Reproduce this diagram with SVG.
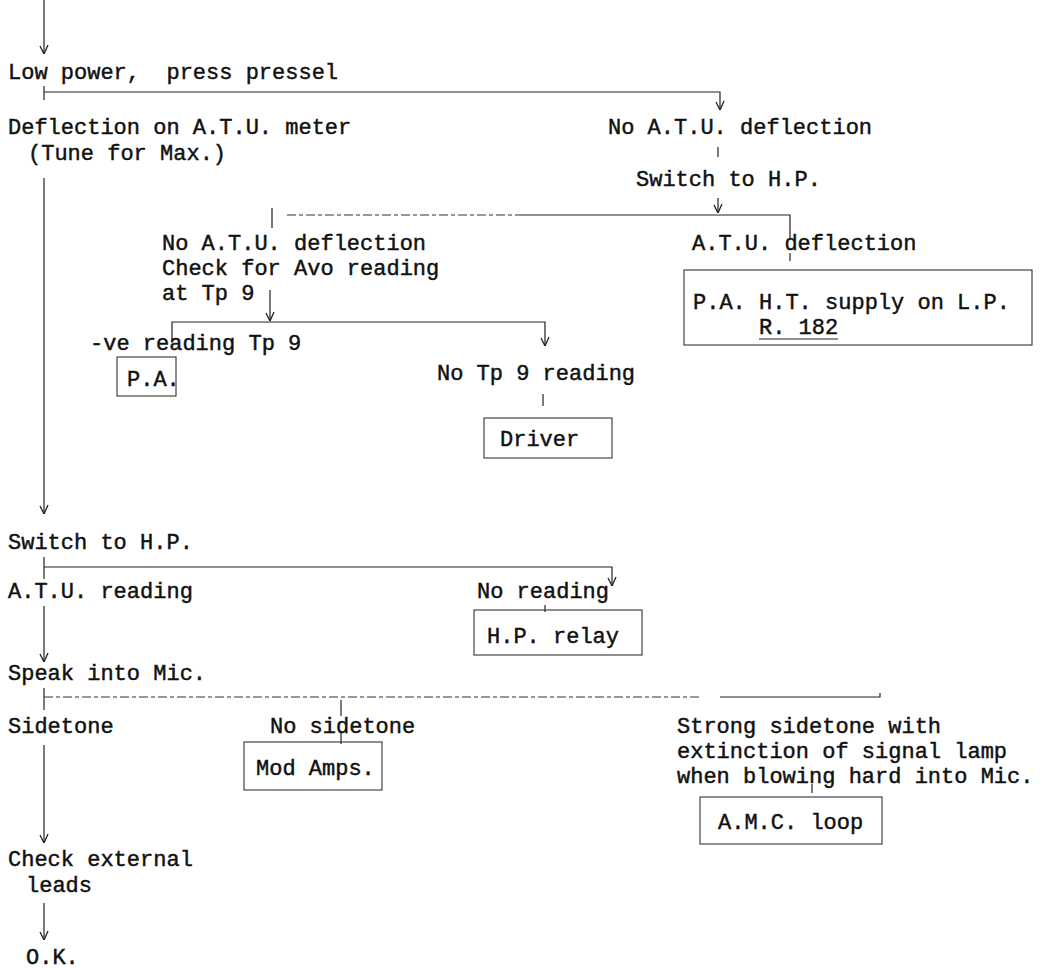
<svg xmlns="http://www.w3.org/2000/svg" width="1061" height="972" viewBox="0 0 1061 972">
  <style>
    text { font-family: "Liberation Mono", "DejaVu Sans Mono", monospace; font-size: 22px; fill: #111; stroke: #111; stroke-width: 0.45; white-space: pre; }
    .ln { fill: none; stroke: #222; stroke-width: 1.2; }
    .dash { fill: none; stroke: #333; stroke-width: 1.1; stroke-dasharray: 9 3 4 3; }
    .box { fill: none; stroke: #333; stroke-width: 1.1; }
    .arr { marker-end: url(#v); }
  </style>
  <defs>
    <marker id="v" viewBox="0 0 10 10" refX="10" refY="5" markerWidth="10" markerHeight="10" markerUnits="userSpaceOnUse" orient="auto">
      <path d="M1,1 L10,5 L2,9" fill="none" stroke="#222" stroke-width="1.3"/>
    </marker>
  </defs>

  <rect width="1061" height="972" fill="#fff"/>

  <!-- connectors -->
  <g id="connectors">
    <!-- main spine -->
    <line class="ln arr" x1="44" y1="0" x2="44" y2="54"/>
    <line class="ln" x1="44" y1="86" x2="44" y2="100"/>
    <polyline class="ln arr" points="44,92 720,92 720,110"/>
    <line class="ln" x1="718" y1="147" x2="718" y2="157"/>
    <line class="ln arr" x1="718" y1="198" x2="718" y2="213"/>
    <line class="ln" x1="272" y1="208" x2="272" y2="228"/>
    <line class="dash" x1="287" y1="215" x2="520" y2="215"/>
    <polyline class="ln" points="520,215 790,215 790,238"/>
    <line class="ln" x1="790" y1="253" x2="790" y2="261"/>
    <line class="ln" x1="270" y1="290" x2="270" y2="306"/>
    <line class="ln arr" x1="270" y1="306" x2="270" y2="321"/>
    <polyline class="ln arr" points="172,343 172,322 545,322 545,346"/>
    <line class="ln" x1="543" y1="394" x2="543" y2="406"/>
    <line class="ln arr" x1="44" y1="178" x2="44" y2="514"/>
    <line class="ln" x1="44" y1="557" x2="44" y2="579"/>
    <polyline class="ln arr" points="44,567 612,567 612,586"/>
    <line class="ln" x1="545" y1="605" x2="545" y2="612"/>
    <line class="ln arr" x1="44" y1="606" x2="44" y2="662"/>
    <line class="ln" x1="44" y1="688" x2="44" y2="710"/>
    <line class="dash" x1="44" y1="697" x2="700" y2="697"/>
    <polyline class="ln" points="720,697 880,697 880,693"/>
    <line class="ln" x1="341" y1="700" x2="341" y2="716"/>
    <line class="ln" x1="341" y1="733" x2="341" y2="744"/>
    <line class="ln" x1="812" y1="784" x2="812" y2="793"/>
    <line class="ln arr" x1="44" y1="745" x2="44" y2="843"/>
    <line class="ln arr" x1="44" y1="903" x2="44" y2="940"/>
  </g>

  <!-- steps and outcomes -->
  <g id="low-power"><text x="8" y="79">Low power,  press pressel</text></g>
  <g id="deflection"><text x="8" y="134">Deflection on A.T.U. meter</text><text x="28" y="160">(Tune for Max.)</text></g>
  <g id="no-deflection-lp"><text x="608" y="134">No A.T.U. deflection</text></g>
  <g id="switch-hp-upper"><text x="636" y="186">Switch to H.P.</text></g>
  <g id="no-deflection-hp"><text x="162" y="250">No A.T.U. deflection</text><text x="162" y="275">Check for Avo reading</text><text x="162" y="300">at Tp 9</text></g>
  <g id="deflection-hp"><text x="692" y="250">A.T.U. deflection</text></g>
  <g id="pa-ht-supply">
    <rect class="box" x="684" y="270" width="348" height="75"/>
    <text x="693" y="309">P.A. H.T. supply on L.P.</text>
    <text x="759" y="334">R. 182</text>
    <line class="ln" x1="759" y1="339" x2="838" y2="339"/>
  </g>
  <g id="ve-reading"><text x="90" y="350">-ve reading Tp 9</text></g>
  <g id="pa"><rect class="box" x="117" y="357" width="59" height="39"/><text x="127" y="386">P.A.</text></g>
  <g id="no-tp9"><text x="437" y="380">No Tp 9 reading</text></g>
  <g id="driver"><rect class="box" x="484" y="418" width="128" height="40"/><text x="500" y="446">Driver</text></g>
  <g id="switch-hp"><text x="8" y="549">Switch to H.P.</text></g>
  <g id="atu-reading"><text x="8" y="598">A.T.U. reading</text></g>
  <g id="no-reading"><text x="477" y="598">No reading</text></g>
  <g id="hp-relay"><rect class="box" x="474" y="610" width="168" height="45"/><text x="487" y="643">H.P. relay</text></g>
  <g id="speak-mic"><text x="8" y="680">Speak into Mic.</text></g>
  <g id="sidetone"><text x="8" y="733">Sidetone</text></g>
  <g id="no-sidetone"><text x="270" y="733">No sidetone</text></g>
  <g id="mod-amps"><rect class="box" x="244" y="742" width="138" height="48"/><text x="256" y="775">Mod Amps.</text></g>
  <g id="strong-sidetone"><text x="677" y="733">Strong sidetone with</text><text x="677" y="758">extinction of signal lamp</text><text x="677" y="783">when blowing hard into Mic.</text></g>
  <g id="amc-loop"><rect class="box" x="700" y="797" width="182" height="47"/><text x="718" y="829">A.M.C. loop</text></g>
  <g id="check-leads"><text x="8" y="866">Check external</text><text x="26" y="892">leads</text></g>
  <g id="ok"><text x="26" y="964">O.K.</text></g>
</svg>
